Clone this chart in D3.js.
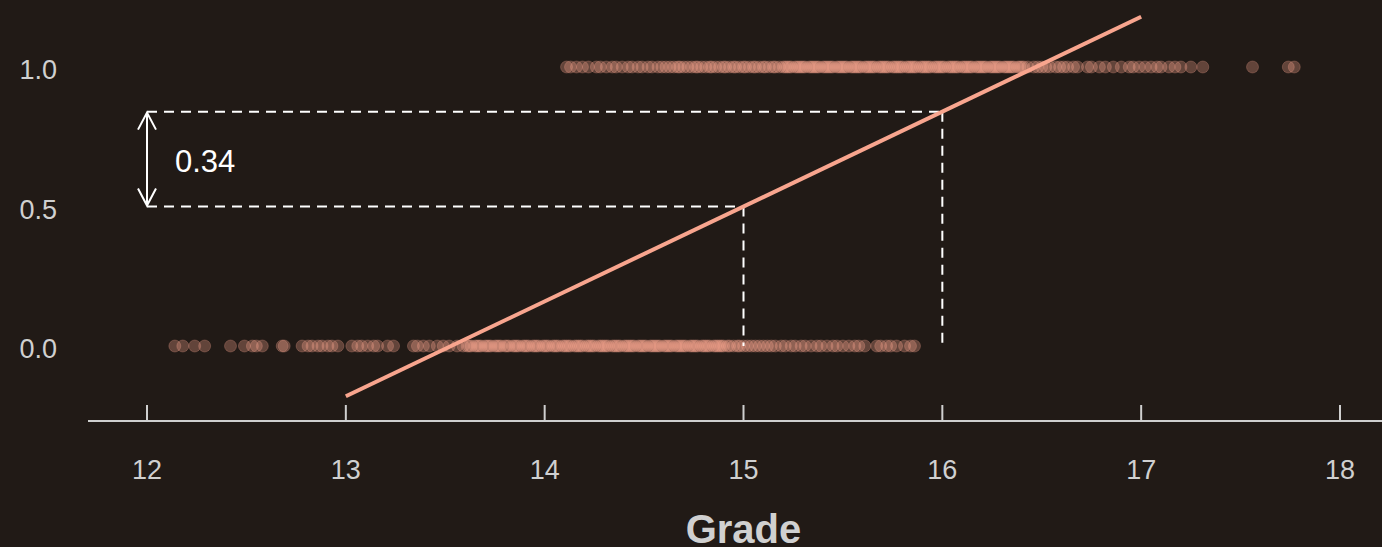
<!DOCTYPE html>
<html>
<head>
<meta charset="utf-8">
<script src="https://cdn.jsdelivr.net/npm/d3@7"></script>
<style>
  html, body { margin: 0; padding: 0; background: #211a16; }
  svg { display: block; font-family: "Liberation Sans", Arial, sans-serif; }
</style>
</head>
<body>
<svg id="chart" width="1382" height="547"></svg>
<script>
// grades of students who failed (outcome 0)
const failedGrades = [
  12.14, 12.18, 12.24, 12.29, 12.42, 12.49, 12.53, 12.55, 12.58, 12.68, 12.69, 12.78,
  12.81, 12.83, 12.86, 12.88, 12.91, 12.93, 12.96, 13.03, 13.06, 13.08, 13.11, 13.14,
  13.16, 13.21, 13.24, 13.34, 13.36, 13.39, 13.42, 13.46, 13.49, 13.52, 13.56, 13.59,
  13.61, 13.62, 13.63, 13.65, 13.66, 13.67, 13.68, 13.70, 13.71, 13.72, 13.73, 13.75,
  13.76, 13.77, 13.78, 13.80, 13.81, 13.82, 13.84, 13.85, 13.86, 13.87, 13.89, 13.90,
  13.91, 13.92, 13.94, 13.95, 13.96, 13.97, 13.99, 14.00, 14.01, 14.02, 14.04, 14.05,
  14.06, 14.07, 14.09, 14.10, 14.11, 14.12, 14.13, 14.15, 14.16, 14.17, 14.18, 14.19,
  14.21, 14.22, 14.23, 14.24, 14.25, 14.27, 14.28, 14.29, 14.30, 14.31, 14.32, 14.34,
  14.35, 14.36, 14.37, 14.38, 14.40, 14.41, 14.42, 14.43, 14.44, 14.45, 14.47, 14.48,
  14.49, 14.50, 14.51, 14.53, 14.54, 14.55, 14.56, 14.57, 14.58, 14.60, 14.61, 14.62,
  14.63, 14.64, 14.66, 14.67, 14.68, 14.69, 14.70, 14.71, 14.73, 14.74, 14.75, 14.76,
  14.77, 14.79, 14.80, 14.81, 14.82, 14.83, 14.85, 14.86, 14.87, 14.88, 14.89,
  14.90, 14.92, 14.93, 14.95, 14.97, 14.98, 15.00, 15.02, 15.04, 15.06, 15.08, 15.10,
  15.12, 15.14, 15.16, 15.19, 15.21, 15.24, 15.26, 15.29, 15.31, 15.34, 15.37, 15.39,
  15.42, 15.45, 15.47, 15.50, 15.53, 15.56, 15.58, 15.61, 15.67, 15.69, 15.72, 15.74,
  15.77, 15.81, 15.84, 15.86
];

// grades of students who passed (outcome 1)
const passedGrades = [
  14.11, 14.13, 14.16, 14.19, 14.22, 14.26, 14.28, 14.31, 14.34, 14.36, 14.39, 14.42,
  14.44, 14.47, 14.49, 14.52, 14.54, 14.57, 14.59, 14.61, 14.63, 14.65, 14.67, 14.68,
  14.70, 14.72, 14.74, 14.76, 14.77, 14.79, 14.81, 14.83, 14.84, 14.86, 14.88, 14.90,
  14.91, 14.93, 14.95, 14.96, 14.98, 15.00, 15.01, 15.03, 15.05, 15.06, 15.08, 15.10,
  15.11, 15.13, 15.15, 15.16, 15.18,
  15.20, 15.21, 15.22, 15.23, 15.24, 15.26, 15.27, 15.28, 15.29, 15.30, 15.31, 15.33,
  15.34, 15.35, 15.36, 15.37, 15.38, 15.40, 15.41, 15.42, 15.43, 15.44, 15.45, 15.47,
  15.48, 15.49, 15.50, 15.51, 15.52, 15.54, 15.55, 15.56, 15.57, 15.58, 15.59, 15.61,
  15.62, 15.63, 15.64, 15.65, 15.66, 15.68, 15.69, 15.70, 15.71, 15.72, 15.73, 15.75,
  15.76, 15.77, 15.78, 15.79, 15.80, 15.82, 15.83, 15.84, 15.85, 15.86, 15.87, 15.89,
  15.90, 15.91, 15.92, 15.93, 15.94, 15.96, 15.97, 15.98, 15.99, 16.00, 16.01, 16.03,
  16.04, 16.05, 16.06, 16.07, 16.08, 16.10, 16.11, 16.12, 16.13, 16.14, 16.15, 16.17,
  16.18, 16.19, 16.20, 16.21, 16.22, 16.24, 16.25, 16.26, 16.27, 16.28, 16.29, 16.31,
  16.32, 16.33, 16.34, 16.35, 16.36, 16.38, 16.39, 16.40, 16.41, 16.43,
  16.46, 16.48, 16.50, 16.52, 16.54, 16.57, 16.59, 16.61, 16.63, 16.66, 16.68,
  16.73, 16.75, 16.79, 16.82, 16.86, 16.90, 16.94, 16.96, 16.99, 17.02, 17.05, 17.08,
  17.10, 17.14, 17.17, 17.20, 17.25, 17.31, 17.56, 17.74, 17.77
];

// fitted linear probability model: p = intercept + slope * grade
const slope = 0.34;
const intercept = 0.5 - slope * 15;
const fitRange = [13, 17];

// annotation: grade 15 -> 16 raises p by the slope
const refGrades = [15, 16];

const xTicks = [12, 13, 14, 15, 16, 17, 18];
const yTicks = [0, 0.5, 1];

const salmon = "#f8a58e";
const textGrey = "#d0d0d0";

let svg = d3.select("#chart");

let x = d3.scaleLinear().domain([12, 18]).range([147, 1340]);
let y = d3.scaleLinear().domain([0, 1]).range([346, 67]);

let axisY = 421;

// x axis
svg.append("line")
    .attr("x1", 88).attr("x2", 1382)
    .attr("y1", axisY).attr("y2", axisY)
    .attr("stroke", "#cfcfcf").attr("stroke-width", 2);

svg.append("g").selectAll("line")
    .data(xTicks)
    .enter().append("line")
    .attr("x1", d => x(d)).attr("x2", d => x(d))
    .attr("y1", axisY - 16).attr("y2", axisY)
    .attr("stroke", "#cfcfcf").attr("stroke-width", 2);

svg.append("g").selectAll("text")
    .data(xTicks)
    .enter().append("text")
    .attr("x", d => x(d))
    .attr("y", 479)
    .attr("text-anchor", "middle")
    .attr("fill", textGrey)
    .style("font-size", "27px")
    .text(d => d);

svg.append("text")
    .attr("x", x(15))
    .attr("y", 543)
    .attr("text-anchor", "middle")
    .attr("fill", textGrey)
    .style("font-size", "40px")
    .style("font-weight", "bold")
    .text("Grade");

// y tick labels (no axis line)
svg.append("g").selectAll("text")
    .data(yTicks)
    .enter().append("text")
    .attr("x", 57)
    .attr("y", d => y(d) + 12)
    .attr("text-anchor", "end")
    .attr("fill", textGrey)
    .style("font-size", "27px")
    .text(d => d.toFixed(1));

// points
let points = failedGrades.map(g => ({grade: g, outcome: 0}))
    .concat(passedGrades.map(g => ({grade: g, outcome: 1})));

svg.append("g").selectAll("circle")
    .data(points)
    .enter().append("circle")
    .attr("cx", d => x(d.grade))
    .attr("cy", d => y(d.outcome))
    .attr("r", 6)
    .attr("fill", salmon)
    .attr("fill-opacity", 0.3)
    .attr("stroke", salmon)
    .attr("stroke-opacity", 0.25)
    .attr("stroke-width", 1);

// dashed guides
let pAt = g => intercept + slope * g;
let dash = svg.append("g")
    .attr("stroke", "#ffffff")
    .attr("stroke-width", 2)
    .attr("stroke-dasharray", "10,7")
    .attr("fill", "none");

refGrades.forEach(g => {
    dash.append("line")
        .attr("x1", x(12)).attr("x2", x(g))
        .attr("y1", y(pAt(g))).attr("y2", y(pAt(g)));
    dash.append("line")
        .attr("x1", x(g)).attr("x2", x(g))
        .attr("y1", y(pAt(g))).attr("y2", y(0));
});

// fitted line
svg.append("line")
    .attr("x1", x(fitRange[0])).attr("y1", y(pAt(fitRange[0])))
    .attr("x2", x(fitRange[1])).attr("y2", y(pAt(fitRange[1])))
    .attr("stroke", salmon)
    .attr("stroke-width", 4);

// double arrow showing the slope
let ax = x(12);
let yTop = y(pAt(refGrades[1])), yBot = y(pAt(refGrades[0]));
let arrow = svg.append("g")
    .attr("stroke", "#ffffff")
    .attr("stroke-width", 2)
    .attr("fill", "none");
arrow.append("line")
    .attr("x1", ax).attr("x2", ax)
    .attr("y1", yTop + 1).attr("y2", yBot - 1);
arrow.append("path")
    .attr("d", `M${ax - 9},${yTop + 18} L${ax},${yTop + 1} L${ax + 9},${yTop + 18}`);
arrow.append("path")
    .attr("d", `M${ax - 9},${yBot - 18} L${ax},${yBot - 1} L${ax + 9},${yBot - 18}`);

svg.append("text")
    .attr("x", 175)
    .attr("y", 172)
    .attr("fill", "#ffffff")
    .style("font-size", "31px")
    .text(slope.toFixed(2));
</script>
</body>
</html>
